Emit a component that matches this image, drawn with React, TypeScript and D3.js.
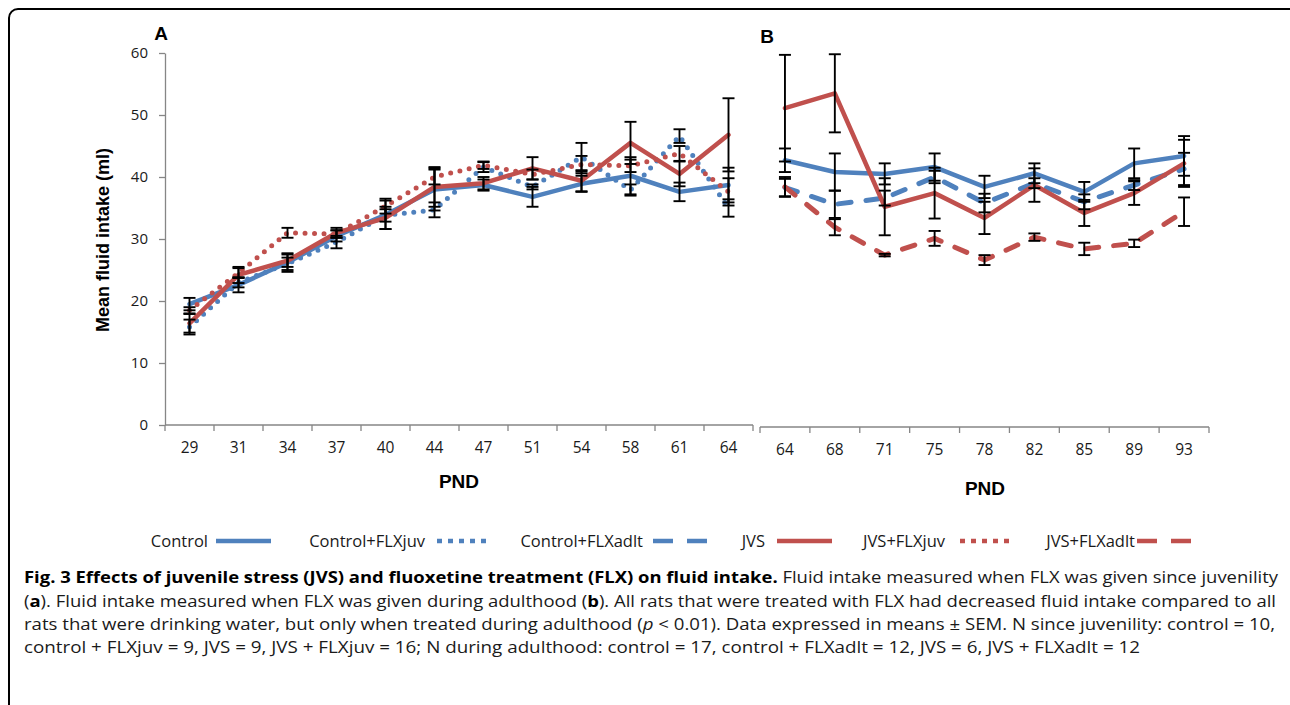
import React, { useEffect, useRef } from "react";
import * as d3 from "d3";

// PND categories for the two panels
const pndA = ["29", "31", "34", "37", "40", "44", "47", "51", "54", "58", "61", "64"];
const pndB = ["64", "68", "71", "75", "78", "82", "85", "89", "93"];
const yTicks = [0, 10, 20, 30, 40, 50, 60];

// panel A: FLX since juvenility
const controlA = [19.5, 22.6, 26.2, 30.5, 33.9, 38.0, 38.7, 36.8, 38.9, 40.2, 37.6, 38.7];
const controlSemA = [1.0, 1.2, 1.5, 0.9, 2.3, 3.4, 0.9, 1.6, 1.3, 3.0, 1.5, 2.8];
const flxJuvA = [15.8, 23.0, 26.0, 29.5, 33.8, 34.7, 41.6, 38.4, 43.2, 37.9, 46.6, 35.0];
const flxJuvSemA = [1.2, 0.8, 1.0, 1.0, 1.0, 1.2, 0.8, 0.4, 2.3, 0.9, 1.1, 1.4];
const jvsA = [16.4, 24.2, 26.5, 31.0, 33.4, 38.4, 39.0, 41.4, 39.4, 45.5, 40.5, 46.8];
const jvsSemA = [1.5, 1.3, 1.0, 0.8, 1.8, 3.2, 1.0, 1.8, 1.7, 3.4, 2.0, 5.9];
const jvsFlxJuvA = [18.5, 24.5, 31.0, 30.8, 35.3, 40.0, 41.9, 40.4, 42.0, 41.8, 43.8, 37.6];
const jvsFlxJuvSemA = [0.5, 0.8, 0.8, 0.6, 1.2, 1.2, 0.6, 0.8, 1.4, 1.0, 1.2, 2.2];

// panel B: FLX during adulthood
const controlB = [42.7, 40.8, 40.5, 41.6, 38.4, 40.6, 37.6, 42.2, 43.4];
const controlSemB = [1.9, 3.0, 1.7, 2.2, 1.8, 1.6, 1.6, 2.4, 3.2];
const flxAdltB = [38.3, 35.6, 36.6, 40.0, 35.8, 39.0, 36.0, 38.7, 41.3];
const flxAdltSemB = [1.4, 2.2, 1.2, 1.0, 1.5, 0.8, 1.2, 0.8, 2.6];
const jvsB = [51.1, 53.5, 35.2, 37.4, 33.4, 38.7, 34.2, 37.4, 42.2];
const jvsSemB = [8.6, 6.3, 4.6, 4.1, 2.6, 2.7, 2.1, 1.9, 3.8];
const jvsFlxAdltB = [38.4, 31.9, 27.4, 30.1, 26.6, 30.3, 28.4, 29.3, 34.4];
const jvsFlxAdltSemB = [1.6, 1.3, 0.2, 1.2, 0.8, 0.6, 1.0, 0.6, 2.3];

const legendLabels = ["Control", "Control+FLXjuv", "Control+FLXadlt", "JVS", "JVS+FLXjuv", "JVS+FLXadlt"];

const BLUE = "#4F81BD";
const RED = "#C0504D";
const FONT = "'Open Sans', 'DejaVu Sans', sans-serif";

export default function App() {
  const svgRef = useRef(null);

  useEffect(() => {
    const svg = d3.select(svgRef.current);
    svg.selectAll("*").remove();

    const y = d3.scaleLinear().domain([0, 60]).range([425, 53]);
    const xA = d3.scaleBand().domain(pndA).range([165, 753]);
    const xB = d3.scaleBand().domain(pndB).range([760, 1209]);

    // frame (right and bottom edges fall outside the picture)
    svg.append("rect").attr("x", 9).attr("y", 9).attr("width", 1290).attr("height", 710)
      .attr("rx", 9).attr("fill", "none").attr("stroke", "#000").attr("stroke-width", 2);

    // y axis
    const yAxis = svg.append("g").attr("transform", "translate(165,0)")
      .call(d3.axisLeft(y).tickValues(yTicks).tickSizeInner(6).tickSizeOuter(0).tickPadding(11));
    yAxis.selectAll("path,line").attr("stroke", "#868686").attr("stroke-width", 1.3);
    yAxis.selectAll("text").attr("font-family", FONT).attr("font-size", 15).attr("fill", "#1a1a1a");

    const drawX = (x, yPos) => {
      const g = svg.append("g").attr("transform", `translate(0,${yPos})`)
        .call(d3.axisBottom(x).tickSize(0).tickPadding(17));
      g.select(".domain").remove();
      g.selectAll("text").attr("font-family", FONT).attr("font-size", 15.5).attr("fill", "#1a1a1a");
      const [r0, r1] = x.range();
      g.append("line").attr("x1", r0).attr("x2", r1).attr("stroke", "#868686").attr("stroke-width", 1.3);
      const bounds = x.domain().map((d) => x(d)).concat([r1]);
      g.selectAll(".bt").data(bounds).join("line").attr("class", "bt")
        .attr("x1", (d) => d).attr("x2", (d) => d).attr("y1", 0).attr("y2", 6)
        .attr("stroke", "#868686").attr("stroke-width", 1.3);
    };
    drawX(xA, 425);
    drawX(xB, 427);

    const styles = {
      solid: { dash: null, cap: "round" },
      dot: { dash: "0 9.5", cap: "round" },
      dash: { dash: "13 15", cap: "round" },
    };

    const series = [
      { x: xA, cats: pndA, v: controlA, sem: controlSemA, color: BLUE, st: "solid" },
      { x: xA, cats: pndA, v: flxJuvA, sem: flxJuvSemA, color: BLUE, st: "dot" },
      { x: xA, cats: pndA, v: jvsA, sem: jvsSemA, color: RED, st: "solid" },
      { x: xA, cats: pndA, v: jvsFlxJuvA, sem: jvsFlxJuvSemA, color: RED, st: "dot" },
      { x: xB, cats: pndB, v: controlB, sem: controlSemB, color: BLUE, st: "solid" },
      { x: xB, cats: pndB, v: flxAdltB, sem: flxAdltSemB, color: BLUE, st: "dash" },
      { x: xB, cats: pndB, v: jvsB, sem: jvsSemB, color: RED, st: "solid" },
      { x: xB, cats: pndB, v: jvsFlxAdltB, sem: jvsFlxAdltSemB, color: RED, st: "dash" },
    ];

    series.forEach((s) => {
      const cx = (i) => s.x(s.cats[i]) + s.x.bandwidth() / 2;
      const line = d3.line().x((d, i) => cx(i)).y((d) => y(d));
      const p = svg.append("path").attr("d", line(s.v)).attr("fill", "none")
        .attr("stroke", s.color).attr("stroke-width", s.st === "solid" ? 4.5 : 5)
        .attr("stroke-linecap", styles[s.st].cap).attr("stroke-linejoin", "round");
      if (styles[s.st].dash) p.attr("stroke-dasharray", styles[s.st].dash);
    });

    // error bars
    series.forEach((s) => {
      const cx = (i) => s.x(s.cats[i]) + s.x.bandwidth() / 2;
      const g = svg.append("g").attr("stroke", "#000").attr("stroke-width", 1.9);
      s.v.forEach((v, i) => {
        const hi = y(v + s.sem[i]);
        const lo = y(v - s.sem[i]);
        g.append("line").attr("x1", cx(i)).attr("x2", cx(i)).attr("y1", hi).attr("y2", lo);
        g.append("line").attr("x1", cx(i) - 6).attr("x2", cx(i) + 6).attr("y1", hi).attr("y2", hi);
        g.append("line").attr("x1", cx(i) - 6).attr("x2", cx(i) + 6).attr("y1", lo).attr("y2", lo);
      });
    });

    // titles
    const bold = (txt, x0, y0, size) => svg.append("text").attr("x", x0).attr("y", y0)
      .attr("font-family", "'Liberation Sans', Arial, sans-serif").attr("font-weight", "bold")
      .attr("font-size", size).attr("text-anchor", "middle").attr("fill", "#000").text(txt);
    bold("A", 161, 40, 19);
    bold("B", 767, 43, 19);
    bold("PND", 459, 488, 19);
    bold("PND", 985, 495, 19);
    bold("Mean fluid intake (ml)", 0, 0, 18)
      .attr("transform", "translate(109,240) rotate(-90)");

    // legend
    const legendStyle = [
      { color: BLUE, dash: null },
      { color: BLUE, dash: "5 6" },
      { color: BLUE, dash: "20 14" },
      { color: RED, dash: null },
      { color: RED, dash: "5 6" },
      { color: RED, dash: "20 14" },
    ];
    const textEnd = [208, 425, 643, 765, 945, 1135];
    const lineStart = [216, 437, 653, 777, 960, 1137];
    legendLabels.forEach((lab, i) => {
      svg.append("text").attr("x", textEnd[i]).attr("y", 547).attr("text-anchor", "end")
        .attr("font-family", FONT).attr("font-size", 16.5).attr("fill", "#1a1a1a").text(lab);
      const l = svg.append("line").attr("x1", lineStart[i]).attr("x2", lineStart[i] + 55)
        .attr("y1", 541).attr("y2", 541).attr("stroke", legendStyle[i].color).attr("stroke-width", 4.5);
      if (legendStyle[i].dash) l.attr("stroke-dasharray", legendStyle[i].dash);
    });

    // caption
    const cap = [
      { y: 583, len: 1254, parts: [
        ["Fig. 3 Effects of juvenile stress (JVS) and fluoxetine treatment (FLX) on fluid intake.", "b"],
        [" Fluid intake measured when FLX was given since juvenility", "n"],
      ] },
      { y: 607, len: 1252, parts: [
        ["(", "n"], ["a", "b"], ["). Fluid intake measured when FLX was given during adulthood (", "n"], ["b", "b"],
        ["). All rats that were treated with FLX had decreased fluid intake compared to all", "n"],
      ] },
      { y: 630, len: 1251, parts: [
        ["rats that were drinking water, but only when treated during adulthood (", "n"], ["p", "i"],
        [" < 0.01). Data expressed in means ± SEM. N since juvenility: control = 10,", "n"],
      ] },
      { y: 653, len: 1116, parts: [
        ["control + FLXjuv = 9, JVS = 9, JVS + FLXjuv = 16; N during adulthood: control = 17, control + FLXadlt = 12, JVS = 6, JVS + FLXadlt = 12", "n"],
      ] },
    ];
    cap.forEach((c) => {
      const t = svg.append("text").attr("x", 24).attr("y", c.y).attr("font-family", FONT)
        .attr("font-size", 16).attr("fill", "#1a1a1a")
        .attr("textLength", c.len).attr("lengthAdjust", "spacingAndGlyphs");
      c.parts.forEach(([txt, st]) => {
        const ts = t.append("tspan").text(txt);
        if (st === "b") ts.attr("font-weight", "bold").attr("fill", "#000");
        if (st === "i") ts.attr("font-style", "italic");
      });
    });
  }, []);

  return (
    <svg ref={svgRef} width={1290} height={705}
      style={{ position: "absolute", left: 0, top: 0, background: "#fff" }} />
  );
}
